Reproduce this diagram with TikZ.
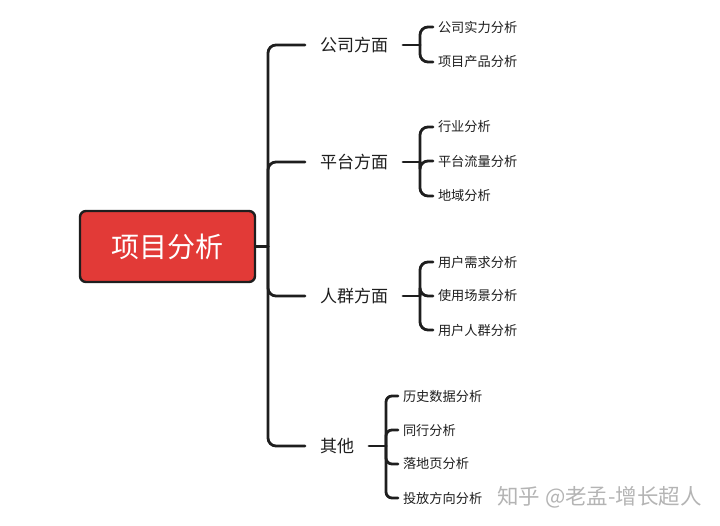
\documentclass[tikz,border=0pt]{standalone}
\usepackage{fontspec}
\setmainfont{Noto Sans CJK SC}
\definecolor{linec}{HTML}{1E1E1E}
\definecolor{rootred}{HTML}{E23A37}
\definecolor{wmark}{HTML}{B4B4B4}
\begin{document}
\begin{tikzpicture}[x=1pt,y=-1pt,
  conn/.style={line width=2.8pt, draw=linec, line cap=round, rounded corners=8pt},
  rootbox/.style={draw=linec, line width=2.4pt, fill=rootred, rounded corners=6pt,
    minimum width=175pt, minimum height=71pt, text=white, inner sep=0pt,
    font=\fontsize{28}{32}\selectfont},
  branch/.style={anchor=west, inner xsep=0pt, inner ysep=2pt, outer xsep=15pt, outer ysep=0pt,
    text=linec, font=\fontsize{17}{20}\selectfont},
  leaf/.style={anchor=west, inner xsep=0pt, inner ysep=2pt, outer xsep=5pt, outer ysep=0pt,
    text=linec, font=\fontsize{13.2}{16}\selectfont},
  watermark/.style={anchor=west, inner sep=0pt, text=wmark, font=\fontsize{21.5}{25}\selectfont}]
\useasboundingbox (0,0) rectangle (720,526);

% root
\node[rootbox] (root) at (167.5,246.5) {项目分析};
\coordinate (trunk) at (268,246.5);

% branches
\node[branch] (b1) at (305,45) {公司方面};
\node[branch] (b2) at (305,162) {平台方面};
\node[branch] (b3) at (305,296) {人群方面};
\node[branch] (b4) at (305,446) {其他};

% leaves
\node[leaf] (c11) at (433,27) {公司实力分析};
\node[leaf] (c12) at (433,62) {项目产品分析};
\node[leaf] (c21) at (433,127) {行业分析};
\node[leaf] (c22) at (433,161) {平台流量分析};
\node[leaf] (c23) at (433,196) {地域分析};
\node[leaf] (c31) at (433,262) {用户需求分析};
\node[leaf] (c32) at (433,296) {使用场景分析};
\node[leaf] (c33) at (433,330) {用户人群分析};
\node[leaf] (c41) at (398,396) {历史数据分析};
\node[leaf] (c42) at (398,430) {同行分析};
\node[leaf] (c43) at (398,464) {落地页分析};
\node[leaf] (c44) at (398,498) {投放方向分析};

% junction coordinates
\coordinate (j1) at (420,45);
\coordinate (j2) at (420,162);
\coordinate (j3) at (420,296);
\coordinate (j4) at (386,446);

% root to trunk
\draw[conn] (root.east) -- (trunk);
\foreach \b in {b1,b2,b3,b4} \draw[conn] (trunk) |- (\b.west);

% branch brackets
\draw[conn] (b1.east) -- (j1);
\foreach \c in {c11,c12} \draw[conn] (j1) |- (\c.west);
\draw[conn] (b2.east) -- (j2);
\foreach \c in {c21,c22,c23} \draw[conn] (j2) |- (\c.west);
\draw[conn] (b3.east) -- (j3);
\foreach \c in {c31,c32,c33} \draw[conn] (j3) |- (\c.west);
\draw[conn] (b4.east) -- (j4);
\foreach \c in {c41,c42,c43,c44} \draw[conn, rounded corners=6pt] (j4) |- (\c.west);

% watermark
\node[watermark] (wm) at (497,497) {知乎 @老孟-增长超人};
\end{tikzpicture}
\end{document}
